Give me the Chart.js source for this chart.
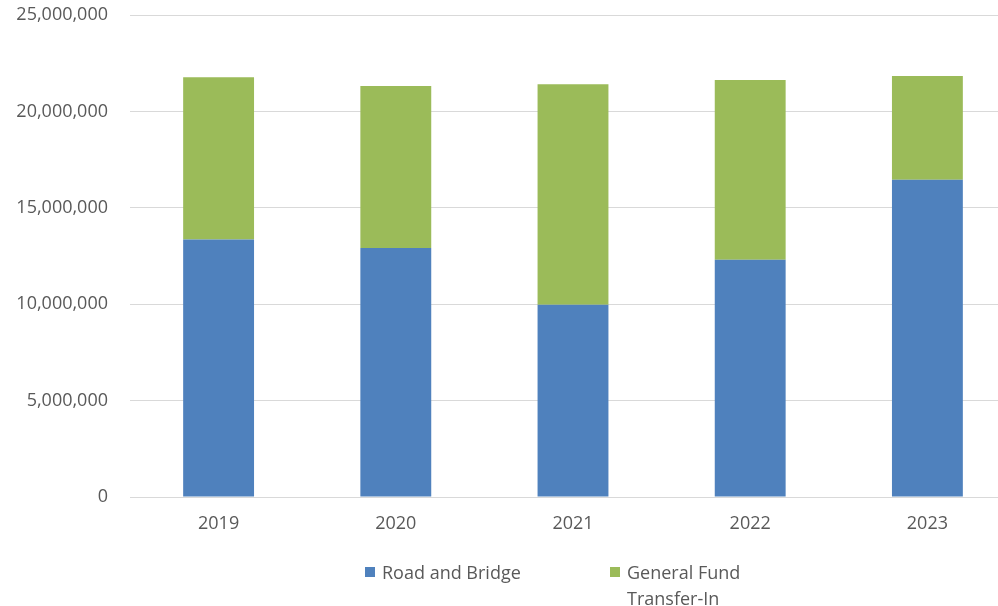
<!DOCTYPE html>
<html>
<head>
<meta charset="utf-8">
<script src="https://cdn.jsdelivr.net/npm/chart.js@4/dist/chart.umd.min.js"></script>
<style>
  html, body { margin: 0; padding: 0; background: #fff; overflow: hidden; }
  #wrap { position: relative; width: 1016px; height: 606px; }
  #legend { position: absolute; top: 559px; left: 0; width: 998px; font-family: "Open Sans", sans-serif; font-size: 18px; color: #595959; line-height: 26px; }
  .item { position: absolute; top: 0; }
  .box { position: absolute; width: 10px; height: 10px; top: 8px; left: 0; }
  .lbl { position: absolute; left: 17px; top: 0; white-space: nowrap; }
</style>
</head>
<body>
<div id="wrap">
  <canvas id="c" width="1016" height="606"></canvas>
  <div id="legend"></div>
</div>
<script>
const categories = ["2019", "2020", "2021", "2022", "2023"];
const roadAndBridge = [13360000, 12910000, 9970000, 12310000, 16450000];
const generalFundTransferIn = [8410000, 8410000, 11440000, 9320000, 5390000];
const seriesNames = ["Road and Bridge", "General Fund Transfer-In"];
const legendLines = [["Road and Bridge"], ["General Fund", "Transfer-In"]];
const colors = ["#4f81bd", "#9bbb59"];
const yTicks = [0, 5000000, 10000000, 15000000, 20000000, 25000000];

const font = { family: "'Open Sans', sans-serif", size: 18 };

new Chart(document.getElementById('c'), {
  type: 'bar',
  data: {
    labels: categories,
    datasets: [
      { label: seriesNames[0], data: roadAndBridge, backgroundColor: colors[0], borderWidth: 0 },
      { label: seriesNames[1], data: generalFundTransferIn, backgroundColor: colors[1], borderWidth: 0 }
    ]
  },
  options: {
    responsive: false,
    animation: false,
    layout: { padding: { top: 15, bottom: 0, left: 0, right: 0 } },
    plugins: { legend: { display: false }, tooltip: { enabled: false } },
    datasets: { bar: { barPercentage: 0.4, categoryPercentage: 1.0 } },
    scales: {
      x: {
        stacked: true,
        grid: { display: false, drawTicks: false },
        border: { display: true, color: '#d9d9d9', width: 1 },
        ticks: { font: font, color: '#595959', padding: 16, maxRotation: 0 },
        afterFit: (s) => { s.height = 109; s.paddingLeft = 0; s.paddingRight = 0; }
      },
      y: {
        stacked: true,
        min: yTicks[0],
        max: yTicks[yTicks.length - 1],
        afterBuildTicks: (s) => { s.ticks = yTicks.map(v => ({ value: v })); },
        grid: { color: '#d9d9d9', lineWidth: 1, drawTicks: false },
        border: { display: false },
        ticks: {
          font: font, color: '#595959', padding: 22,
          callback: (v) => Number(v).toLocaleString('en-US')
        },
        afterFit: (s) => { s.width = 130; s.paddingTop = 0; s.paddingBottom = 0; }
      }
    }
  }
});

const legendEl = document.getElementById('legend');
const legendX = [365, 610];
legendLines.forEach((lines, i) => {
  const it = document.createElement('div');
  it.className = 'item';
  it.style.left = legendX[i] + 'px';
  const b = document.createElement('div');
  b.className = 'box';
  b.style.background = colors[i];
  const t = document.createElement('div');
  t.className = 'lbl';
  t.innerHTML = lines.join('<br>');
  it.appendChild(b); it.appendChild(t);
  legendEl.appendChild(it);
});
</script>
</body>
</html>
